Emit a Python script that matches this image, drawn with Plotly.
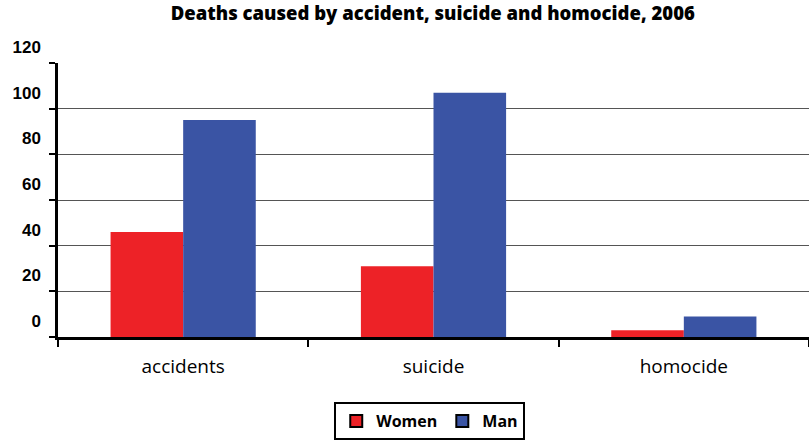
import plotly.graph_objects as go

categories = ["accidents", "suicide", "homocide"]
women = [46, 31, 3]
men = [95, 107, 9]
y_ticks = [0, 20, 40, 60, 80, 100, 120]

RED = "#ed2227"
BLUE = "#3a54a4"

fig = go.Figure()
fig.add_trace(go.Bar(x=categories, y=women, name="Women", marker=dict(color=RED, line_width=0),
                     showlegend=False))
fig.add_trace(go.Bar(x=categories, y=men, name="Man", marker=dict(color=BLUE, line_width=0),
                     showlegend=False))
# legend swatches with a dark outline
for nm, col in (("Women", RED), ("Man", BLUE)):
    fig.add_trace(go.Scatter(x=[None], y=[None], mode="markers", name=nm,
                             marker=dict(symbol="square", size=12, color=col,
                                         line=dict(color="black", width=2))))

fig.update_layout(
    width=809, height=440,
    margin=dict(l=58, r=0, t=63, b=102),
    paper_bgcolor="white", plot_bgcolor="white",
    barmode="group", bargap=0.42, bargroupgap=0,
    title=dict(text="Deaths caused by accident, suicide and homocide, 2006",
               x=0.535, xanchor="center", y=0.985, yanchor="top",
               font=dict(family="Open Sans", size=18.5, color="black", weight=800)),
    font=dict(family="Open Sans", color="black"),
    legend=dict(orientation="h", x=0.495, xanchor="center", y=-0.235, yanchor="top",
                bordercolor="black", borderwidth=2, bgcolor="white",
                font=dict(family="Open Sans", size=16, color="black", weight="bold"),
                itemwidth=30, tracegroupgap=0),
    showlegend=True,
)
fig.update_xaxes(
    showline=True, linecolor="black", linewidth=2.5,
    ticks="outside", tickson="boundaries", ticklen=7, tickwidth=2, tickcolor="black",
    tickfont=dict(family="Open Sans", size=19, color="black"),
    ticklabelstandoff=10,
    showgrid=False, range=[-0.5, 2.5],
)
fig.update_yaxes(
    range=[0, 120], tickvals=y_ticks, ticktext=[str(v) for v in y_ticks],
    showline=True, linecolor="black", linewidth=2.5,
    ticks="outside", ticklen=6, tickwidth=2, tickcolor="black",
    tickfont=dict(family="Liberation Sans", size=17, color="black", weight="bold"),
    ticklabelshift=-16, ticklabelstandoff=5,
    showgrid=True, gridcolor="#555555", gridwidth=1.2, zeroline=False,
)

fig.write_html("out.html")
